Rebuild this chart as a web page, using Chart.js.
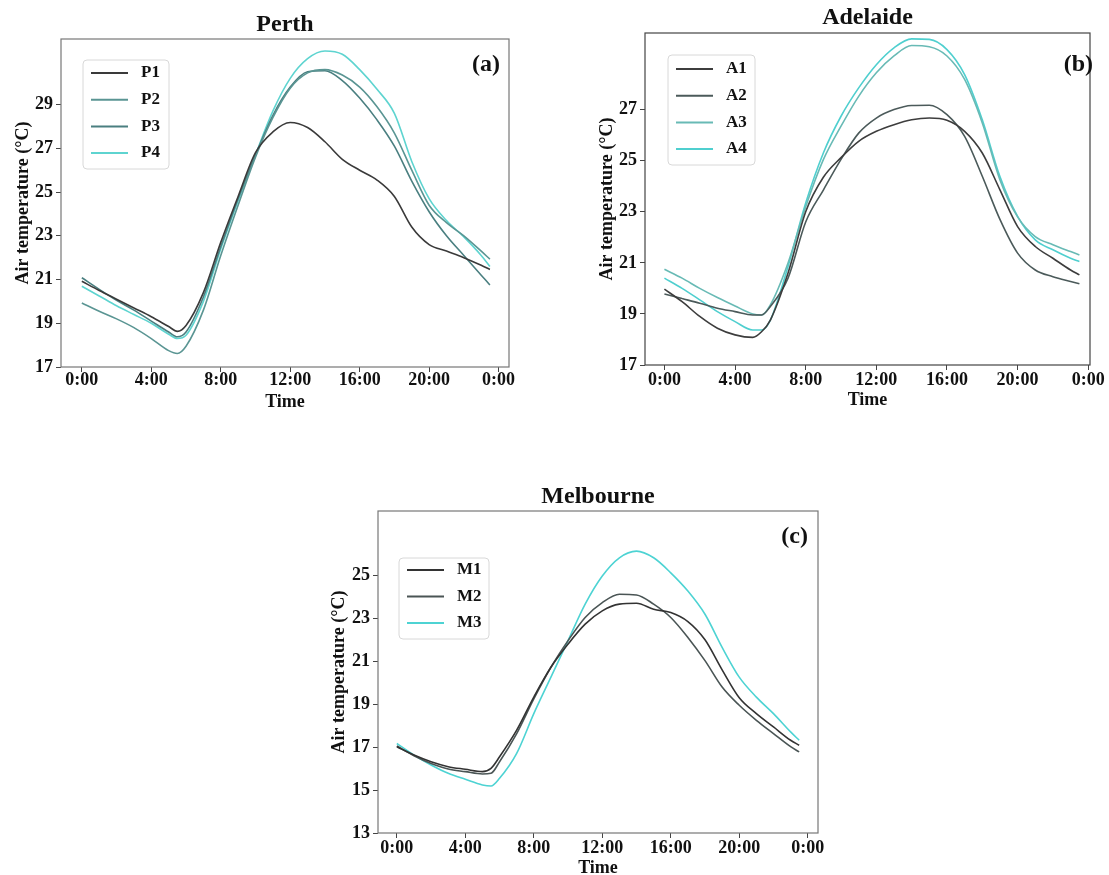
<!DOCTYPE html>
<html>
<head>
<meta charset="utf-8">
<script src="https://cdn.jsdelivr.net/npm/chart.js@4.4.1/dist/chart.umd.min.js"></script>
<style>
  body { margin: 0; background: #fff; width: 1109px; height: 875px; overflow: hidden; position: relative; }
  canvas { position: absolute; }
</style>
</head>
<body>
<canvas id="perth" width="540" height="420" style="left:0;top:0"></canvas>
<canvas id="adelaide" width="549" height="420" style="left:560px;top:0"></canvas>
<canvas id="melbourne" width="540" height="420" style="left:300px;top:470px"></canvas>
<script>
// time of day in hours, shared by all series
const hours = [0, 1, 2, 3, 4, 5, 5.5, 6, 7, 8, 9, 10, 11, 12, 13, 14, 15, 16, 17, 18, 19, 20, 21, 22, 23, 23.5];
const hourTicks = [0, 4, 8, 12, 16, 20, 24];

// Perth (a)
const p1 = [20.92, 20.5, 20.1, 19.7, 19.3, 18.85, 18.63, 18.9, 20.4, 22.7, 24.8, 26.8, 27.75, 28.18, 27.95, 27.3, 26.5, 26.0, 25.55, 24.8, 23.4, 22.6, 22.3, 22.0, 21.65, 21.46];
const p2 = [19.93, 19.55, 19.2, 18.8, 18.3, 17.75, 17.62, 17.95, 19.6, 22.1, 24.4, 26.6, 28.4, 29.75, 30.45, 30.6, 30.35, 29.8, 28.9, 27.7, 26.0, 24.4, 23.6, 23.0, 22.3, 21.93];
const p3 = [21.08, 20.55, 20.05, 19.6, 19.1, 18.6, 18.38, 18.6, 20.2, 22.5, 24.7, 26.7, 28.5, 29.8, 30.5, 30.55, 30.1, 29.3, 28.3, 27.1, 25.5, 24.1, 23.0, 22.1, 21.2, 20.75];
const p4 = [20.69, 20.25, 19.8, 19.4, 19.0, 18.5, 18.3, 18.45, 20.0, 22.4, 24.6, 26.7, 28.7, 30.2, 31.1, 31.45, 31.3, 30.6, 29.7, 28.6, 26.4, 24.7, 23.7, 22.95, 22.1, 21.6];
const perthTicks = [17, 19, 21, 23, 25, 27, 29];

// Adelaide (b)
const a1 = [19.97, 19.48, 18.9, 18.44, 18.18, 18.08, 18.3, 18.76, 20.6, 23.0, 24.35, 25.12, 25.76, 26.15, 26.41, 26.6, 26.67, 26.58, 26.15, 25.3, 23.86, 22.42, 21.64, 21.18, 20.72, 20.53];
const a2 = [19.78, 19.6, 19.42, 19.22, 19.09, 18.96, 18.96, 19.29, 20.4, 22.6, 23.85, 25.05, 26.08, 26.67, 27.0, 27.16, 27.17, 26.8, 25.95, 24.39, 22.7, 21.38, 20.72, 20.46, 20.27, 20.18];
const a3 = [20.75, 20.4, 20.0, 19.64, 19.31, 19.0, 18.96, 19.35, 20.99, 23.2, 25.04, 26.35, 27.52, 28.44, 29.1, 29.51, 29.46, 29.1, 28.18, 26.48, 24.25, 22.8, 22.03, 21.71, 21.44, 21.31];
const a4 = [20.4, 20.0, 19.55, 19.09, 18.7, 18.37, 18.37, 18.76, 20.86, 23.34, 25.3, 26.74, 27.85, 28.76, 29.42, 29.77, 29.75, 29.35, 28.37, 26.6, 24.38, 22.82, 21.9, 21.51, 21.18, 21.05];
const adelaideTicks = [17, 19, 21, 23, 25, 27];

// Melbourne (c)
const m1 = [17.02, 16.63, 16.32, 16.09, 15.97, 15.86, 16.01, 16.55, 17.79, 19.33, 20.72, 21.8, 22.73, 23.35, 23.66, 23.7, 23.42, 23.27, 22.85, 22.0, 20.6, 19.3, 18.56, 17.94, 17.32, 17.09];
const m2 = [17.05, 16.6, 16.24, 15.98, 15.86, 15.75, 15.78, 16.32, 17.63, 19.25, 20.72, 21.96, 23.04, 23.73, 24.12, 24.09, 23.66, 23.04, 22.11, 21.03, 19.8, 18.95, 18.25, 17.63, 17.02, 16.78];
const m3 = [17.17, 16.63, 16.17, 15.78, 15.5, 15.24, 15.19, 15.55, 16.71, 18.56, 20.26, 21.96, 23.66, 24.97, 25.82, 26.13, 25.82, 25.12, 24.27, 23.19, 21.65, 20.26, 19.33, 18.56, 17.71, 17.32];
const melbourneTicks = [13, 15, 17, 19, 21, 23, 25];

const serif = '"Liberation Serif", "Times New Roman", serif';
Chart.defaults.font.family = serif;

const series = (label, values, color) => ({
    label: label,
    data: hours.map((h, i) => ({ x: h, y: values[i] })),
    borderColor: color,
    borderWidth: 1.6,
    pointRadius: 0,
    cubicInterpolationMode: 'monotone',
    fill: false
});

// frame, title, panel letter and the boxed legend inside the plot
const panelDecor = {
    id: 'panelDecor',
    afterDatasetsDraw(chart, args, opts) {
        const { ctx, chartArea: a } = chart;
        ctx.save();
        ctx.strokeStyle = opts.frameColor;
        ctx.lineWidth = 1.2;
        ctx.strokeRect(a.left, a.top, a.right - a.left, a.bottom - a.top);

        ctx.fillStyle = '#111';
        ctx.textBaseline = 'middle';
        ctx.font = 'bold 24px ' + serif;
        ctx.textAlign = 'center';
        ctx.fillText(opts.title, (a.left + a.right) / 2, opts.titleY);
        ctx.textAlign = 'right';
        ctx.fillText(opts.letter, a.right - opts.letterDx, a.top + opts.letterDy);

        const lg = opts.legend;
        const x0 = a.left + lg.x, y0 = a.top + lg.y;
        ctx.beginPath();
        ctx.roundRect(x0, y0, lg.w, lg.h, 4);
        ctx.fillStyle = 'rgba(255,255,255,0.85)';
        ctx.fill();
        ctx.strokeStyle = '#d8d8d8';
        ctx.lineWidth = 1;
        ctx.stroke();
        ctx.font = 'bold 17px ' + serif;
        ctx.textAlign = 'left';
        chart.data.datasets.forEach((ds, i) => {
            const y = y0 + lg.first + i * lg.step;
            ctx.strokeStyle = ds.borderColor;
            ctx.lineWidth = 2;
            ctx.beginPath();
            ctx.moveTo(x0 + 8, y);
            ctx.lineTo(x0 + 45, y);
            ctx.stroke();
            ctx.fillStyle = '#111';
            ctx.fillText(ds.label, x0 + 58, y);
        });
        ctx.restore();
    }
};

function makeChart(id, datasets, cfg) {
    return new Chart(document.getElementById(id), {
        type: 'line',
        data: { datasets: datasets },
        options: {
            responsive: false,
            animation: false,
            layout: { padding: { left: 0, right: cfg.padRight, top: cfg.chartTop, bottom: 0 } },
            plugins: {
                legend: { display: false },
                tooltip: { enabled: false },
                panelDecor: cfg.decor
            },
            scales: {
                x: {
                    type: 'linear',
                    min: cfg.xMin,
                    max: cfg.xMax,
                    afterBuildTicks: s => { s.ticks = hourTicks.map(v => ({ value: v })); },
                    afterFit: s => { s.height = cfg.xHeight; },
                    grid: { drawOnChartArea: false, tickLength: 5, color: '#444' },
                    border: { display: false },
                    ticks: {
                        color: '#111',
                        padding: cfg.xTickPad,
                        maxRotation: 0,
                        font: { size: 18, weight: 'bold', lineHeight: 1 },
                        callback: v => (v % 24) + ':00'
                    },
                    title: {
                        display: true,
                        text: 'Time',
                        color: '#111',
                        font: { size: 18, weight: 'bold', lineHeight: 1 },
                        padding: { top: 0, bottom: cfg.timePad }
                    }
                },
                y: {
                    min: cfg.yMin,
                    max: cfg.yMax,
                    afterBuildTicks: s => { s.ticks = cfg.yTicks.map(v => ({ value: v })); },
                    afterFit: s => { s.width = cfg.yWidth; },
                    grid: { drawOnChartArea: false, tickLength: 5, color: '#444' },
                    border: { display: false },
                    ticks: {
                        color: '#111',
                        padding: 3,
                        font: { size: 18, weight: 'bold', lineHeight: 1 },
                        callback: v => String(v)
                    },
                    title: {
                        display: true,
                        text: 'Air temperature (°C)',
                        color: '#111',
                        font: { size: 18, weight: 'bold', lineHeight: 1 },
                        padding: { top: cfg.airPad, bottom: 0 }
                    }
                }
            }
        },
        plugins: [panelDecor]
    });
}

makeChart('perth', [
    series('P1', p1, '#3a3a3a'),
    series('P2', p2, '#5a9593'),
    series('P3', p3, '#4a7f80'),
    series('P4', p4, '#5ed4d0')
], {
    xMin: -1.2, xMax: 24.6, yMin: 17, yMax: 32, yTicks: perthTicks,
    chartTop: 39, padRight: 31, xHeight: 53, yWidth: 61,
    xTickPad: -1, timePad: 9, airPad: 14.5,
    decor: {
        title: 'Perth', titleY: 24.5, letter: '(a)', letterDx: 9, letterDy: 26, frameColor: '#777',
        legend: { x: 22, y: 21, w: 86, h: 109, first: 13, step: 26.7 }
    }
});

makeChart('adelaide', [
    series('A1', a1, '#3d3d3d'),
    series('A2', a2, '#4b5a5a'),
    series('A3', a3, '#68bab5'),
    series('A4', a4, '#4fcfcf')
], {
    xMin: -1.1, xMax: 24.1, yMin: 17, yMax: 30, yTicks: adelaideTicks,
    chartTop: 33, padRight: 19, xHeight: 55, yWidth: 85,
    xTickPad: 1, timePad: 11, airPad: 38,
    decor: {
        title: 'Adelaide', titleY: 18, letter: '(b)', letterDx: -3, letterDy: 32, frameColor: '#444',
        legend: { x: 23, y: 22, w: 87, h: 110, first: 14, step: 26.7 }
    }
});

makeChart('melbourne', [
    series('M1', m1, '#333333'),
    series('M2', m2, '#4a5555'),
    series('M3', m3, '#4dd3d3')
], {
    xMin: -1.1, xMax: 24.6, yMin: 13, yMax: 28, yTicks: melbourneTicks,
    chartTop: 41, padRight: 22, xHeight: 57, yWidth: 78,
    xTickPad: 1, timePad: 12.7, airPad: 30,
    decor: {
        title: 'Melbourne', titleY: 26.7, letter: '(c)', letterDx: 10, letterDy: 26, frameColor: '#777',
        legend: { x: 21, y: 47, w: 90, h: 81, first: 12, step: 26.5 }
    }
});
</script>
</body>
</html>
